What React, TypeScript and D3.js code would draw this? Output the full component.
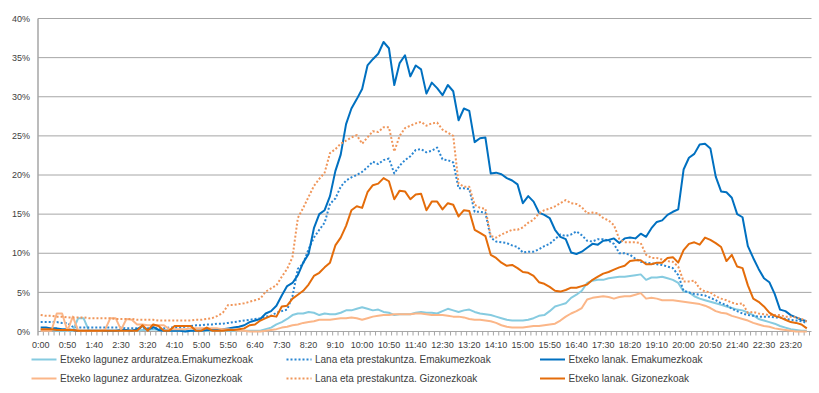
import { useMemo } from "react";
import * as d3 from "d3";

// 10-minute slots, 0:00 .. 23:50
const times: string[] = d3.range(144).map((i) => `${Math.floor(i / 6)}:${String((i % 6) * 10).padStart(2, "0")}`);
// every 5th slot gets a label
const tickLabels: string[] = times.filter((_, i) => i % 5 === 0);
const yTicks = [0, 0.05, 0.1, 0.15, 0.2, 0.25, 0.3, 0.35, 0.4];

// values in % of people doing the activity at each slot
const lagunEmak = [
  0.2, 0.2, 0.2, 0.1, 0.1, 0.1, 0.1, 1.7, 1.7, 0.1, 0.1, 0.1,
  0.1, 0.1, 0.1, 0.1, 0.1, 0.1, 0.1, 0.2, 0.2, 0.3, 0.2, 0.1,
  0.1, 0.1, 0.1, 0.1, 0.1, 0.1, 0.1, 0.1, 0.1, 0.1, 0.1, 0.1,
  0.1, 0.1, 0.1, 0.1, 0.1, 0.1, 0.3, 0.5, 0.9, 1.2, 1.6, 2.1,
  2.3, 2.3, 2.5, 2.4, 2.1, 2.3, 2.2, 2.2, 2.4, 2.7, 2.7, 2.9,
  3.1, 2.9, 2.7, 2.8, 2.5, 2.4, 2.1, 2.2, 2.2, 2.2, 2.4, 2.5,
  2.4, 2.4, 2.3, 2.6, 2.9, 2.7, 2.5, 2.7, 2.8, 2.5, 2.3, 2.2,
  2.1, 1.9, 1.7, 1.5, 1.4, 1.4, 1.4, 1.5, 1.7, 2.0, 2.1, 2.6,
  3.2, 3.4, 3.6, 4.3, 4.7, 5.2, 6.2, 6.5, 6.6, 6.6, 6.8, 6.9,
  7.0, 7.0, 7.1, 7.2, 7.3, 6.6, 6.9, 6.9, 7.0, 6.8, 6.6, 6.2,
  5.1, 5.0, 4.5, 4.2, 4.0, 3.8, 3.6, 3.4, 3.2, 3.0, 2.8, 2.7,
  2.4, 2.1, 1.6, 1.4, 1.2, 1.0, 0.7, 0.5, 0.3, 0.2, 0.1, 0.1,
];

const lanaEmak = [
  1.2, 1.2, 1.2, 1.2, 1.1, 1.1, 0.6, 0.5, 0.5, 0.5, 0.5, 0.5,
  0.5, 0.5, 0.5, 0.5, 0.4, 0.4, 0.4, 0.4, 0.4, 0.4, 0.4, 0.4,
  0.5, 0.5, 0.5, 0.6, 0.7, 0.8, 0.8, 0.9, 0.9, 1.0, 1.0, 1.1,
  1.2, 1.3, 1.4, 1.5, 1.6, 1.7, 1.9, 2.0, 2.4, 2.6, 2.8, 4.5,
  8.0, 8.7, 10.5, 12.0, 13.0, 13.9, 16.3, 17.0, 18.5, 19.3, 19.7, 20.0,
  20.4, 21.0, 21.7, 21.4, 21.9, 22.1, 20.2, 21.2, 21.9, 22.4, 23.2, 23.3,
  22.9, 23.1, 23.5, 22.0, 21.9, 21.6, 18.3, 18.3, 18.2, 15.3, 15.3, 15.2,
  12.0, 11.5, 11.4, 11.3, 11.0, 10.8, 10.1, 10.2, 10.2, 10.5, 10.9, 11.2,
  11.8, 12.4, 12.2, 12.4, 12.8, 12.3, 11.6, 11.5, 11.8, 11.8, 11.6, 11.2,
  10.0, 10.0, 9.8, 9.3, 8.9, 8.8, 8.7, 8.6, 8.5, 8.3, 8.1, 7.2,
  5.2, 5.0, 4.8, 4.7, 4.6, 4.3, 4.0, 3.6, 3.4, 2.9, 2.6, 2.3,
  2.1, 2.0, 1.9, 1.9, 1.9, 1.8, 1.8, 1.6, 1.5, 1.4, 1.3, 1.1,
];

const lanakEmak = [
  0.5, 0.5, 0.4, 0.4, 0.3, 0.3, 0.2, 0.1, 0.1, 0.1, 0.1, 0.1,
  0.1, 0.1, 0.1, 0.2, 0.2, 0.1, 0.3, 0.7, 0.2, 0.6, 0.2, 0.1,
  0.1, 0.1, 0.1, 0.0, 0.1, 0.1, 0.1, 0.2, 0.2, 0.2, 0.3, 0.4,
  0.5, 0.6, 0.8, 1.2, 1.4, 1.6, 2.3, 2.6, 3.3, 4.6, 5.8, 6.2,
  7.2, 8.8, 9.9, 13.2, 15.0, 15.5, 17.3, 20.5, 22.6, 26.5, 28.5, 29.7,
  31.0, 34.0, 34.8, 35.5, 37.0, 36.2, 31.5, 34.3, 35.3, 32.6, 34.0, 33.5,
  30.4, 31.8, 31.1, 30.2, 31.5, 30.7, 27.0, 28.5, 28.2, 24.2, 24.7, 24.8,
  20.2, 20.3, 20.1, 19.6, 19.3, 18.8, 16.4, 17.3, 16.6, 15.2, 14.9, 14.5,
  13.0, 12.1, 11.8, 10.1, 9.9, 10.2, 10.7, 11.2, 11.1, 11.6, 11.7, 11.9,
  11.3, 11.9, 12.0, 11.9, 12.5, 12.1, 13.2, 14.0, 14.2, 14.9, 15.3, 15.6,
  20.7, 22.2, 22.7, 23.9, 24.0, 23.4, 19.8, 17.9, 17.8, 17.1, 15.0, 14.6,
  10.9, 9.4, 8.0, 6.8, 6.3, 4.8, 2.8, 2.6, 2.1, 1.8, 1.5, 1.3,
];

const lagunGiz = [
  0.1, 0.1, 0.1, 2.3, 2.3, 0.1, 1.9, 0.1, 0.1, 0.1, 0.1, 0.1,
  0.2, 1.7, 1.7, 0.2, 1.6, 1.5, 0.9, 0.9, 0.8, 0.8, 0.8, 0.8,
  0.3, 0.3, 0.3, 0.3, 0.4, 0.4, 0.4, 0.4, 0.4, 0.4, 0.3, 0.3,
  0.2, 0.1, 0.1, 0.0, 0.0, 0.0, 0.1, 0.2, 0.3, 0.5, 0.6, 0.8,
  0.9, 1.1, 1.2, 1.3, 1.5, 1.5, 1.5, 1.6, 1.7, 1.7, 1.8, 1.7,
  1.5, 1.7, 1.9, 2.0, 2.1, 2.1, 2.2, 2.2, 2.2, 2.2, 2.3, 2.3,
  2.2, 2.1, 2.1, 2.1, 2.0, 1.9, 1.9, 1.8, 1.6, 1.5, 1.5, 1.4,
  1.3, 1.1, 0.8, 0.6, 0.5, 0.5, 0.5, 0.6, 0.7, 0.7, 0.8, 0.9,
  1.0, 1.4, 1.9, 2.3, 2.6, 3.0, 4.1, 4.3, 4.4, 4.5, 4.4, 4.2,
  4.4, 4.5, 4.5, 4.7, 4.9, 4.2, 4.3, 4.2, 4.0, 4.0, 4.0, 3.9,
  3.8, 3.7, 3.6, 3.5, 3.3, 3.0, 2.6, 2.4, 2.3, 2.0, 1.8, 1.6,
  1.4, 1.1, 0.9, 0.7, 0.6, 0.4, 0.3, 0.2, 0.1, 0.0, 0.0, 0.0,
];

const lanaGiz = [
  2.1, 2.0, 2.0, 1.9, 1.9, 1.8, 1.8, 1.8, 1.8, 1.7, 1.7, 1.7,
  1.7, 1.7, 1.6, 1.6, 1.6, 1.6, 1.5, 1.5, 1.5, 1.5, 1.4, 1.4,
  1.4, 1.4, 1.4, 1.4, 1.4, 1.5, 1.5, 1.6, 1.7, 2.0, 2.4, 3.4,
  3.4, 3.5, 3.6, 3.8, 4.0, 4.2, 5.1, 5.5, 5.9, 7.0, 8.0, 9.5,
  14.5, 15.8, 17.2, 18.6, 19.5, 20.3, 22.8, 23.3, 24.0, 24.4, 24.8, 25.1,
  24.0, 24.8, 25.6, 25.5, 26.1, 26.1, 23.0, 25.0, 26.0, 26.3, 26.6, 26.8,
  26.3, 26.6, 26.7, 25.8, 25.4, 25.0, 18.9, 18.5, 18.5, 16.2, 15.8, 15.7,
  12.2, 12.0, 12.4, 12.7, 13.0, 13.0, 13.3, 13.9, 14.3, 15.1, 15.5, 15.7,
  16.0, 16.4, 16.8, 16.4, 16.3, 15.9, 15.1, 15.2, 15.1, 14.5, 14.2, 13.6,
  11.8, 11.4, 11.4, 11.4, 11.3, 9.8, 9.4, 9.4, 9.2, 9.0, 8.9, 8.3,
  6.4, 6.4, 6.5, 5.5, 5.1, 5.0, 4.5, 4.2, 4.0, 3.7, 3.5, 3.6,
  2.4, 2.5, 2.3, 2.2, 2.1, 2.1, 2.1, 1.9, 1.9, 1.8, 1.6, 1.3,
];

const lanakGiz = [
  0.3, 0.3, 0.3, 0.2, 0.2, 0.2, 0.2, 0.1, 0.1, 0.1, 0.1, 0.1,
  0.1, 0.1, 0.1, 0.1, 0.1, 0.1, 0.1, 0.8, 0.1, 0.9, 0.7, 0.1,
  0.1, 0.7, 0.7, 0.7, 0.7, 0.1, 0.1, 0.5, 0.1, 0.1, 0.1, 0.2,
  0.2, 0.3, 0.4, 0.8, 0.9, 1.4, 1.7, 2.0, 1.9, 3.2, 3.3, 4.2,
  4.7, 5.2, 6.0, 7.1, 7.5, 8.2, 8.8, 11.0, 12.0, 13.5, 15.5, 16.0,
  15.8, 17.8, 18.7, 18.9, 19.6, 19.2, 16.9, 18.0, 17.9, 16.9, 17.5, 17.6,
  15.5, 16.6, 16.6, 15.6, 16.4, 16.2, 14.7, 15.5, 15.4, 13.0, 12.6, 12.2,
  9.8, 9.4, 8.8, 8.4, 8.5, 8.1, 7.6, 7.5, 7.1, 6.3, 6.1, 5.7,
  5.2, 5.1, 5.3, 5.6, 5.6, 5.8, 6.0, 6.6, 7.0, 7.4, 7.6, 7.9,
  8.2, 8.4, 9.0, 9.1, 9.1, 8.6, 8.6, 8.8, 8.8, 9.4, 9.5, 8.8,
  10.4, 11.2, 11.4, 11.1, 12.0, 11.7, 11.3, 10.8, 9.0, 9.8, 8.3, 8.1,
  5.9, 4.2, 3.8, 3.2, 2.4, 2.0, 1.8, 1.5, 1.2, 1.1, 0.9, 0.4,
];

type Series = {
  name: string;
  values: number[];
  color: string;
  width: number;
  dash?: string;
};

// legend order = drawing order
const series: Series[] = [
  { name: "Etxeko lagunez arduratzea.Emakumezkoak", values: lagunEmak, color: "#86CBE0", width: 2 },
  { name: "Lana eta prestakuntza. Emakumezkoak", values: lanaEmak, color: "#2A86D2", width: 2, dash: "2,2" },
  { name: "Etxeko lanak. Emakumezkoak", values: lanakEmak, color: "#0070C0", width: 2 },
  { name: "Etxeko lagunez arduratzea. Gizonezkoak", values: lagunGiz, color: "#FBB688", width: 2 },
  { name: "Lana eta prestakuntza. Gizonezkoak", values: lanaGiz, color: "#F0965A", width: 2, dash: "2,2" },
  { name: "Etxeko lanak. Gizonezkoak", values: lanakGiz, color: "#E46C0A", width: 2 },
];

const width = 819;
const height = 393;
const plot = { left: 38, right: 809.5, top: 18.5, bottom: 331.5 };
const font = "'Liberation Sans', Arial, sans-serif";
const textColor = "#404040";
const gridColor = "#A6A6A6";

export default function App() {
  const x = useMemo(
    () => d3.scaleBand<string>().domain(times).range([plot.left, plot.right]).padding(0),
    []
  );
  const y = useMemo(() => d3.scaleLinear().domain([0, 0.4]).range([plot.bottom, plot.top]), []);
  const fmt = d3.format(".0%");

  const line = useMemo(
    () =>
      d3
        .line<number>()
        .x((_, i) => (x(times[i]) ?? 0) + x.bandwidth() / 2)
        .y((d) => y(d / 100)),
    [x, y]
  );

  const legendCols = [31.5, 286.5, 540];
  const legendRows = [359.5, 378.5];

  return (
    <svg
      width={width}
      height={height}
      style={{ position: "absolute", left: 0, top: 0, background: "#fff" }}
      fontFamily={font}
    >
      {/* gridlines + y labels */}
      {yTicks.map((t) => (
        <g key={t}>
          <line x1={plot.left} x2={plot.right + 2} y1={y(t)} y2={y(t)} stroke={gridColor} strokeWidth={1} />
          <text x={30} y={y(t)} dy="0.35em" textAnchor="end" fontSize={9} fill={textColor}>
            {fmt(t)}
          </text>
        </g>
      ))}
      <line x1={plot.left} x2={plot.left} y1={plot.top} y2={plot.bottom + 4} stroke={gridColor} strokeWidth={1.5} />

      {/* x minor ticks */}
      {times.map((t) => (
        <line
          key={t}
          x1={(x(t) ?? 0) + x.bandwidth()}
          x2={(x(t) ?? 0) + x.bandwidth()}
          y1={plot.bottom}
          y2={plot.bottom + 4}
          stroke={gridColor}
          strokeWidth={1}
        />
      ))}
      {tickLabels.map((t) => (
        <text
          key={t}
          x={(x(t) ?? 0) + x.bandwidth() / 2}
          y={345}
          dy="0.35em"
          textAnchor="middle"
          fontSize={9}
          fill={textColor}
        >
          {t}
        </text>
      ))}

      {/* series */}
      {series.map((s) => (
        <path
          key={s.name}
          d={line(s.values) ?? undefined}
          fill="none"
          stroke={s.color}
          strokeWidth={s.width}
          strokeDasharray={s.dash}
          strokeLinejoin="round"
        />
      ))}

      {/* legend, 3 per row */}
      {series.map((s, i) => {
        const lx = legendCols[i % 3];
        const ly = legendRows[Math.floor(i / 3)];
        return (
          <g key={s.name}>
            <line x1={lx} x2={lx + 25} y1={ly} y2={ly} stroke={s.color} strokeWidth={2} strokeDasharray={s.dash} />
            <text x={lx + 28.5} y={ly} dy="0.35em" fontSize={10} fill={textColor}>
              {s.name}
            </text>
          </g>
        );
      })}
    </svg>
  );
}
